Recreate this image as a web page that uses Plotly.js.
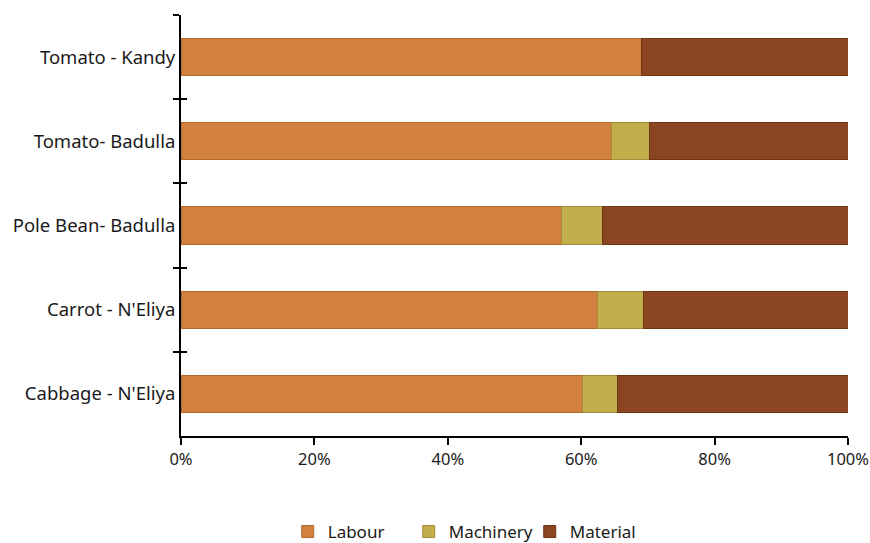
<!DOCTYPE html>
<html><head><meta charset="utf-8">
<script src="https://cdn.plot.ly/plotly-3.0.1.min.js"></script>
<style>body{margin:0;background:#fff}#chart{width:870px;height:543px}</style>
</head><body><div id="chart"></div>
<script>
const categories = ["Tomato - Kandy", "Tomato- Badulla", "Pole Bean- Badulla", "Carrot - N'Eliya", "Cabbage - N'Eliya"];
const labour = [69.0, 64.5, 57.1, 62.4, 60.2];
const machinery = [0.0, 5.8, 6.1, 6.9, 5.3];
const material = [31.0, 29.7, 36.8, 30.7, 34.5];
const seriesNames = ["Labour", "Machinery", "Material"];
const colors = ["#D2803E", "#C4AE4C", "#8B4520"];
const legendColors = ["#F0914A", "#E0C552", "#9A4B26"];
const edge = ["#B06A30", "#A08C3A", "#6E3515"];
const tickVals = [0, 20, 40, 60, 80, 100];
const tickText = ["0%", "20%", "40%", "60%", "80%", "100%"];

const font = {family: "Noto Sans, Open Sans, sans-serif", size: 18.5, color: "#1a1a1a"};
const xfont = {family: "Noto Sans, Open Sans, sans-serif", size: 16.5, color: "#1a1a1a"};
const lfont = {family: "Noto Sans, Open Sans, sans-serif", size: 17, color: "#1a1a1a"};
const vals = [labour, machinery, material];
const traces = vals.map((v, i) => ({
  type: "bar", orientation: "h", name: seriesNames[i], x: v, y: categories,
  marker: {color: colors[i], line: {color: edge[i], width: 1}},
  hoverinfo: "x+name"
}));
// overlay axis for inward half of the crossing ticks
traces.push({type: "bar", orientation: "h", x: categories.map(() => 0), y: categories,
  yaxis: "y2", showlegend: false, hoverinfo: "skip", marker: {color: "rgba(0,0,0,0)"}});

const layout = {
  width: 870, height: 543,
  margin: {l: 181, r: 22, t: 15, b: 107, autoexpand: false},
  barmode: "stack", bargap: 0.56,
  paper_bgcolor: "#fff", plot_bgcolor: "#fff",
  font: font,
  xaxis: {range: [0, 100], tickvals: tickVals, ticktext: tickText, showgrid: false, zeroline: false,
    showline: true, linecolor: "#000", linewidth: 2, ticks: "outside", ticklen: 7, tickwidth: 2,
    tickcolor: "#000", tickfont: xfont, fixedrange: true, automargin: false, ticklabeloverflow: "allow"},
  yaxis: {type: "category", autorange: "reversed", showgrid: false, zeroline: false,
    showline: true, linecolor: "#000", linewidth: 2, ticks: "outside", ticklen: 6, tickwidth: 2,
    tickcolor: "#000", tickson: "boundaries", tickfont: font, fixedrange: true, automargin: false},
  yaxis2: {type: "category", overlaying: "y", side: "left", matches: "y", showgrid: false, zeroline: false,
    showline: false, ticks: "inside", ticklen: 6, tickwidth: 2, tickcolor: "#000", tickson: "boundaries",
    showticklabels: false, fixedrange: true, automargin: false},
  legend: {orientation: "h", x: 0.16, xanchor: "left", y: -0.228, yanchor: "middle",
    font: lfont, traceorder: "normal", itemwidth: 30, entrywidth: 76, entrywidthmode: "pixels"},
  showlegend: true
};
Plotly.newPlot("chart", traces, layout, {displayModeBar: false, staticPlot: true});
</script></body></html>
